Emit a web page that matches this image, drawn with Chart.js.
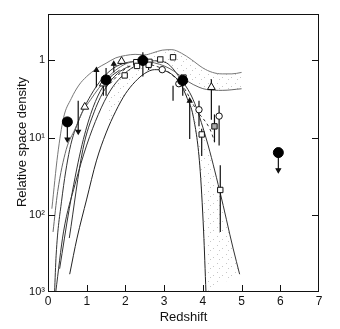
<!DOCTYPE html>
<html><head><meta charset="utf-8">
<script src="https://cdn.jsdelivr.net/npm/chart.js@4.4.0/dist/chart.umd.min.js"></script>
<style>html,body{margin:0;padding:0;background:#fff}</style>
</head><body>
<canvas id="c" width="340" height="329"></canvas>
<script>
// ---- tick data ----
const xTickValues = [0,1,2,3,4,5,6,7];
const yTickValues = [0.001,0.01,0.1,1];
const yTickLabels = ['10³','10²','10¹','1'];
const xTitle = 'Redshift';
const yTitle = 'Relative space density';

// ---- model curves (redshift, relative density) ----
const upperZ = [0.1,0.25,0.4,0.6,0.8,1.0,1.25,1.5,1.75,2.0,2.25,2.5,2.7,2.95,3.2,3.45,3.7,4.0,4.25,4.5,4.75,5.0];
const upperV = [0.012,0.06,0.18,0.32,0.48,0.62,0.78,0.92,1.08,1.16,1.2,1.18,1.25,1.36,1.38,1.24,1.03,0.8,0.7,0.67,0.67,0.7];
const lowerZ = [0.13,0.25,0.47,0.7,0.9,1.1,1.3,1.5,1.75,2.0,2.25,2.5,2.75,3.0,3.25,3.6,3.9,4.1,4.5,5.0];
const lowerV = [0.006,0.02,0.07,0.13,0.22,0.31,0.43,0.57,0.75,0.9,0.97,0.98,0.93,0.85,0.73,0.54,0.45,0.42,0.41,0.43];
const steepZ = [0.56,0.75,1.0,1.25,1.5,1.75,2.0,2.25,2.5,2.75,3.0,3.2,3.4,3.6,3.75,3.92,4.02,4.08];
const steepV = [0.0017,0.005,0.016,0.05,0.115,0.22,0.37,0.53,0.68,0.76,0.74,0.66,0.52,0.32,0.19,0.044,0.006,0.001];
const wideZ = [0.2,0.4,0.7,1.0,1.3,1.6,1.9,2.2,2.5,2.75,3.06,3.4,3.75,4.09,4.44,4.78,4.95];
const wideV = [0.001,0.006,0.025,0.08,0.2,0.4,0.62,0.82,0.95,0.99,0.93,0.6,0.31,0.096,0.02,0.0037,0.0017];
const b1Z = [0.17,0.21,0.35,0.56,0.8,1.1,1.4,1.7,2.0,2.3];
const b1V = [0.001,0.003,0.015,0.07,0.17,0.35,0.58,0.8,0.93,0.98];
const b2Z = [0.3,0.55,0.85,1.1,1.35,1.6,1.85];
const b2V = [0.002,0.012,0.07,0.2,0.4,0.6,0.75];
const b3Z = [0.55,0.9,1.2,1.5,1.8,2.1];
const b3V = [0.005,0.07,0.22,0.45,0.68,0.85];
const dashZ = [1.6,2.0,2.4,2.8,3.14,3.5,3.83,4.18,4.3];
const dashV = [0.5,0.78,0.9,0.84,0.69,0.45,0.23,0.13,0.09];

// ---- observed points ----
const filledZ = [0.5,1.5,2.45,3.48,5.95];
const filledV = [0.16,0.56,1.0,0.55,0.064];
const triZ = [0.95,1.43,1.9,4.22];
const triV = [0.25,0.5,0.98,0.45];
const sqZ = [1.98,2.28,2.3,2.62,2.6,2.9,3.23,3.5,3.97,4.45];
const sqV = [0.64,0.95,0.85,0.96,0.88,1.03,1.1,0.6,0.11,0.021];
const ocZ = [2.95,3.38,3.9,4.42];
const ocV = [0.76,0.5,0.23,0.19];
const hatchZ = [4.3];
const hatchV = [0.14];

// ---- error bars ----
const ebZ  = [1.5,2.45,2.6,3.23,3.48,3.9,3.97,4.22,4.3,4.42,4.45,1.43];
const ebLo = [0.35,0.62,0.75,0.3,0.35,0.14,0.058,0.17,0.087,0.079,0.006,0.35];
const ebHi = [0.8,1.28,1.0,0.47,0.55,0.3,0.13,0.57,0.2,0.26,0.044,0.5];
const hbZ1 = [2.32]; const hbZ2 = [2.58]; const hbV = [1.0];
// ---- arrows (from -> to, tip at "to") ----
const arZ    = [0.5,0.78,1.25,1.7,3.66,5.95];
const arFrom = [0.16,0.3,0.45,0.7,0.096,0.064];
const arTo   = [0.095,0.12,0.75,0.9,0.3,0.038];

// ---------- build datasets ----------
const pts = (zs,vs)=>zs.map((z,i)=>({x:z,y:vs[i]}));
const datasets = [];

// light stipple pattern
const pc = document.createElement('canvas'); pc.width=9; pc.height=9;
const pctx = pc.getContext('2d');
pctx.fillStyle='rgba(0,0,0,0.22)';
pctx.fillRect(1,2,1,1); pctx.fillRect(6,5,1,1); pctx.fillRect(3,7,1,1);
const stipple = document.createElement('canvas').getContext('2d').createPattern(pc,'repeat');

const bandPts = pts(upperZ,upperV).filter(p=>p.x>=2.7).concat(pts(lowerZ,lowerV).filter(p=>p.x>=2.75).reverse());
const lowPts = pts(steepZ,steepV).filter(p=>p.x>=3.4).concat(pts(wideZ,wideV).filter(p=>p.x>=3.4).reverse());
const peakPts = pts(lowerZ,lowerV).filter(p=>p.x>=1.5&&p.x<=2.75).concat(pts(steepZ,steepV).filter(p=>p.x>=1.5&&p.x<=2.75).reverse());
[bandPts,lowPts,peakPts].forEach(p=>datasets.push({data:p,showLine:true,fill:'shape',backgroundColor:stipple,borderWidth:0,borderColor:'rgba(0,0,0,0)',pointRadius:0,tension:0,order:5}));

const curveList = [
  [upperZ,upperV,'#777',false],[lowerZ,lowerV,'#666',false],[steepZ,steepV,'#222',false],
  [wideZ,wideV,'#333',false],[b1Z,b1V,'#333',false],[b2Z,b2V,'#333',false],[b3Z,b3V,'#333',false],
  [dashZ,dashV,'#333',true]
];
curveList.forEach(([z,v,c,d])=>datasets.push({data:pts(z,v),showLine:true,borderColor:c,borderWidth:1,
  borderDash:d?[3,3]:[],pointRadius:0,cubicInterpolationMode:'monotone',fill:false,order:3}));

ebZ.forEach((z,i)=>datasets.push({data:[{x:z,y:ebLo[i]},{x:z,y:ebHi[i]}],showLine:true,borderColor:'#111',borderWidth:1.2,pointRadius:0,order:2}));
hbV.forEach((v,i)=>datasets.push({data:[{x:hbZ1[i],y:v},{x:hbZ2[i],y:v}],showLine:true,borderColor:'#111',borderWidth:1.2,pointRadius:0,order:2}));
arZ.forEach((z,i)=>{
  const down = arTo[i] < arFrom[i];
  datasets.push({data:[{x:z,y:arFrom[i]},{x:z,y:arTo[i]}],showLine:true,borderColor:'#111',borderWidth:1.2,
    pointRadius:[0,2.5],pointStyle:'triangle',rotation:down?180:0,backgroundColor:'#111',order:2});
});

datasets.push({data:pts(ocZ,ocV),pointStyle:'circle',pointRadius:3.2,backgroundColor:'#fff',borderColor:'#111',borderWidth:1,order:1});
datasets.push({data:pts(sqZ,sqV),pointStyle:'rect',pointRadius:3.8,backgroundColor:'#fff',borderColor:'#111',borderWidth:1,order:1});
datasets.push({data:pts(hatchZ,hatchV),pointStyle:'rect',pointRadius:3.8,backgroundColor:'#aaa',borderColor:'#111',borderWidth:1,order:1});
datasets.push({data:pts(triZ,triV),pointStyle:'triangle',pointRadius:4.5,backgroundColor:'#fff',borderColor:'#111',borderWidth:1,order:1});
datasets.push({data:pts(filledZ,filledV),pointStyle:'circle',pointRadius:5,backgroundColor:'#000',borderColor:'#000',borderWidth:1,order:0});

const FONT = 'Liberation Sans, Arial, sans-serif';
const framePlugin = {id:'frame', afterDatasetsDraw(chart){
  const {ctx, chartArea:a, scales:{x,y}} = chart;
  ctx.save(); ctx.strokeStyle='#111'; ctx.lineWidth=1;
  ctx.strokeRect(Math.round(a.left)+0.5, Math.round(a.top)+0.5, Math.round(a.right-a.left)-1, Math.round(a.bottom-a.top)-1);
  ctx.beginPath();
  xTickValues.forEach(v=>{ if(v<=0||v>=7) return; const px=Math.round(x.getPixelForValue(v))+0.5;
    ctx.moveTo(px,a.bottom); ctx.lineTo(px,a.bottom-7); });
  yTickValues.forEach(v=>{ if(v<=0.001) return; const py=Math.round(y.getPixelForValue(v))+0.5;
    ctx.moveTo(a.left,py); ctx.lineTo(a.left+7,py); ctx.moveTo(a.right,py); ctx.lineTo(a.right-7,py); });
  ctx.stroke();
  // y-axis title
  ctx.fillStyle='#111'; ctx.font='13px '+FONT; ctx.textAlign='center'; ctx.textBaseline='middle';
  ctx.translate(22,142); ctx.rotate(-Math.PI/2); ctx.fillText(yTitle,0,0);
  ctx.restore();
}};

new Chart(document.getElementById('c'), {
  type:'scatter',
  data:{datasets},
  options:{
    responsive:false, animation:false, devicePixelRatio:1,
    layout:{padding:{top:14,right:21,left:0,bottom:0}},
    plugins:{legend:{display:false},tooltip:{enabled:false}},
    scales:{
      x:{type:'linear',min:0,max:7,
        afterBuildTicks:s=>{s.ticks=xTickValues.map(v=>({value:v}));},
        afterFit:s=>{s.height=37;},
        grid:{display:false,drawTicks:false},border:{display:false},
        ticks:{autoSkip:false,maxRotation:0,padding:2,color:'#111',font:{family:FONT,size:12}},
        title:{display:true,text:xTitle,color:'#111',padding:{top:0,bottom:4},font:{family:FONT,size:13}}
      },
      y:{type:'logarithmic',min:0.001,max:4,
        afterBuildTicks:s=>{s.ticks=yTickValues.map(v=>({value:v}));},
        afterFit:s=>{s.width=48;},
        grid:{display:false,drawTicks:false},border:{display:false},
        ticks:{autoSkip:false,padding:3,color:'#111',font:{family:FONT,size:11},
          callback:(val)=>{const i=yTickValues.findIndex(t=>Math.abs(Math.log10(t)-Math.log10(val))<0.01);return i>=0?yTickLabels[i]:'';}},
        title:{display:false}
      }
    }
  },
  plugins:[framePlugin]
});
</script>
</body></html>
